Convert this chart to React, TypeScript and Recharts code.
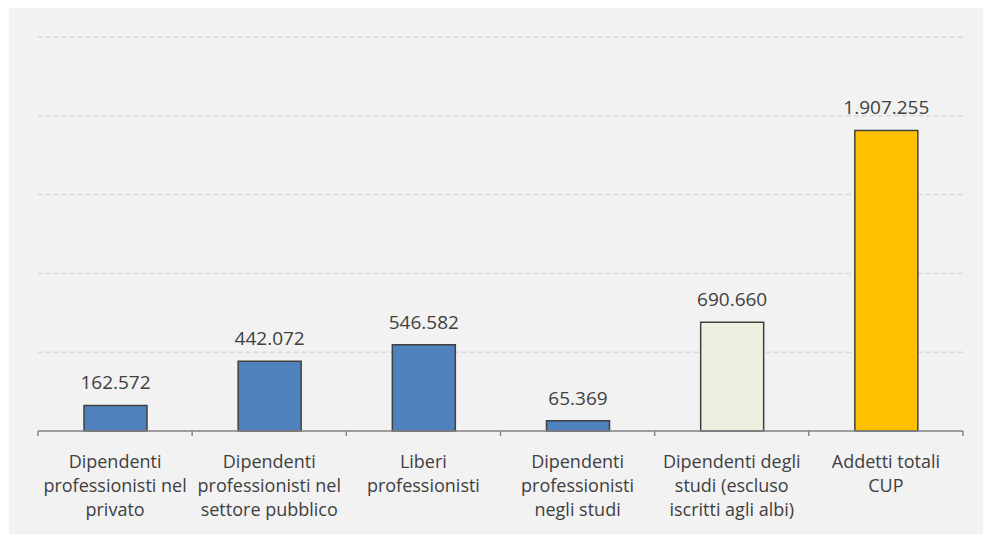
import { BarChart, Bar, XAxis, YAxis, CartesianGrid, Cell, LabelList } from "recharts";

const categories = [
  "Dipendenti\nprofessionisti nel\nprivato",
  "Dipendenti\nprofessionisti nel\nsettore pubblico",
  "Liberi\nprofessionisti",
  "Dipendenti\nprofessionisti\nnegli studi",
  "Dipendenti degli\nstudi (escluso\niscritti agli albi)",
  "Addetti totali\nCUP",
];
const values = [162572, 442072, 546582, 65369, 690660, 1907255];
const barColors = ["#4f81bd", "#4f81bd", "#4f81bd", "#4f81bd", "#ebf1de", "#ffc000"];
const yTicks = [0, 500000, 1000000, 1500000, 2000000, 2500000];
// integer ticks = category boundaries (tick marks), half ticks = category labels
const axisTicks = [0, 0.5, 1, 1.5, 2, 2.5, 3, 3.5, 4, 4.5, 5, 5.5, 6];

const data = categories.map((name, i) => ({ name, value: values[i], pos: i + 0.5 }));

const FONT = "'Open Sans', Lato, sans-serif";
const TEXT = "#404040";
const AXIS = "#868686";

const fmt = (v: number) => String(v).replace(/\B(?=(\d{3})+(?!\d))/g, ".");

function AxisTick(props: any) {
  const { x, y, payload } = props;
  const v = Number(payload.value);
  if (Number.isInteger(v)) {
    return <line x1={x} x2={x} y1={y} y2={y + 5} stroke={AXIS} strokeWidth={1.5} />;
  }
  const lines = categories[Math.floor(v)].split("\n");
  return (
    <text x={x} y={y + 37} textAnchor="middle" fill={TEXT} fontSize={18} fontFamily={FONT}>
      {lines.map((l, i) => (
        <tspan key={i} x={x} dy={i === 0 ? 0 : 24}>
          {l}
        </tspan>
      ))}
    </text>
  );
}

export default function App() {
  return (
    <>
      <style>{"body{margin:0;overflow:hidden}"}</style>
      <div style={{ position: "fixed", left: 9, top: 8, width: 1200, height: 700, background: "#f2f2f2" }}>
        <BarChart
          width={974}
          height={524}
          data={data}
          margin={{ top: 29, right: 20, bottom: 0, left: 29 }}
          barCategoryGap={0}
        >
          <CartesianGrid vertical={false} stroke="#d9d9d9" strokeDasharray="5 3" strokeWidth={1.5} />
          <YAxis hide domain={[0, 2500000]} ticks={yTicks} />
          <XAxis dataKey="name" hide height={0} />
          <XAxis
            xAxisId="labels"
            type="number"
            dataKey="pos"
            domain={[0, 6]}
            ticks={axisTicks}
            interval={0}
            height={101}
            tickSize={0}
            tickMargin={0}
            tickLine={false}
            axisLine={{ stroke: AXIS, strokeWidth: 1.5 }}
            tick={<AxisTick />}
          />
          <Bar dataKey="value" barSize={63} stroke="#404040" strokeWidth={1.5} isAnimationActive={false}>
            {values.map((_, i) => (
              <Cell key={i} fill={barColors[i]} />
            ))}
            <LabelList
              dataKey="value"
              position="top"
              offset={16}
              formatter={(v: any) => fmt(Number(v))}
              fill={TEXT}
              fontSize={19}
              fontFamily={FONT}
            />
          </Bar>
        </BarChart>
      </div>
    </>
  );
}
